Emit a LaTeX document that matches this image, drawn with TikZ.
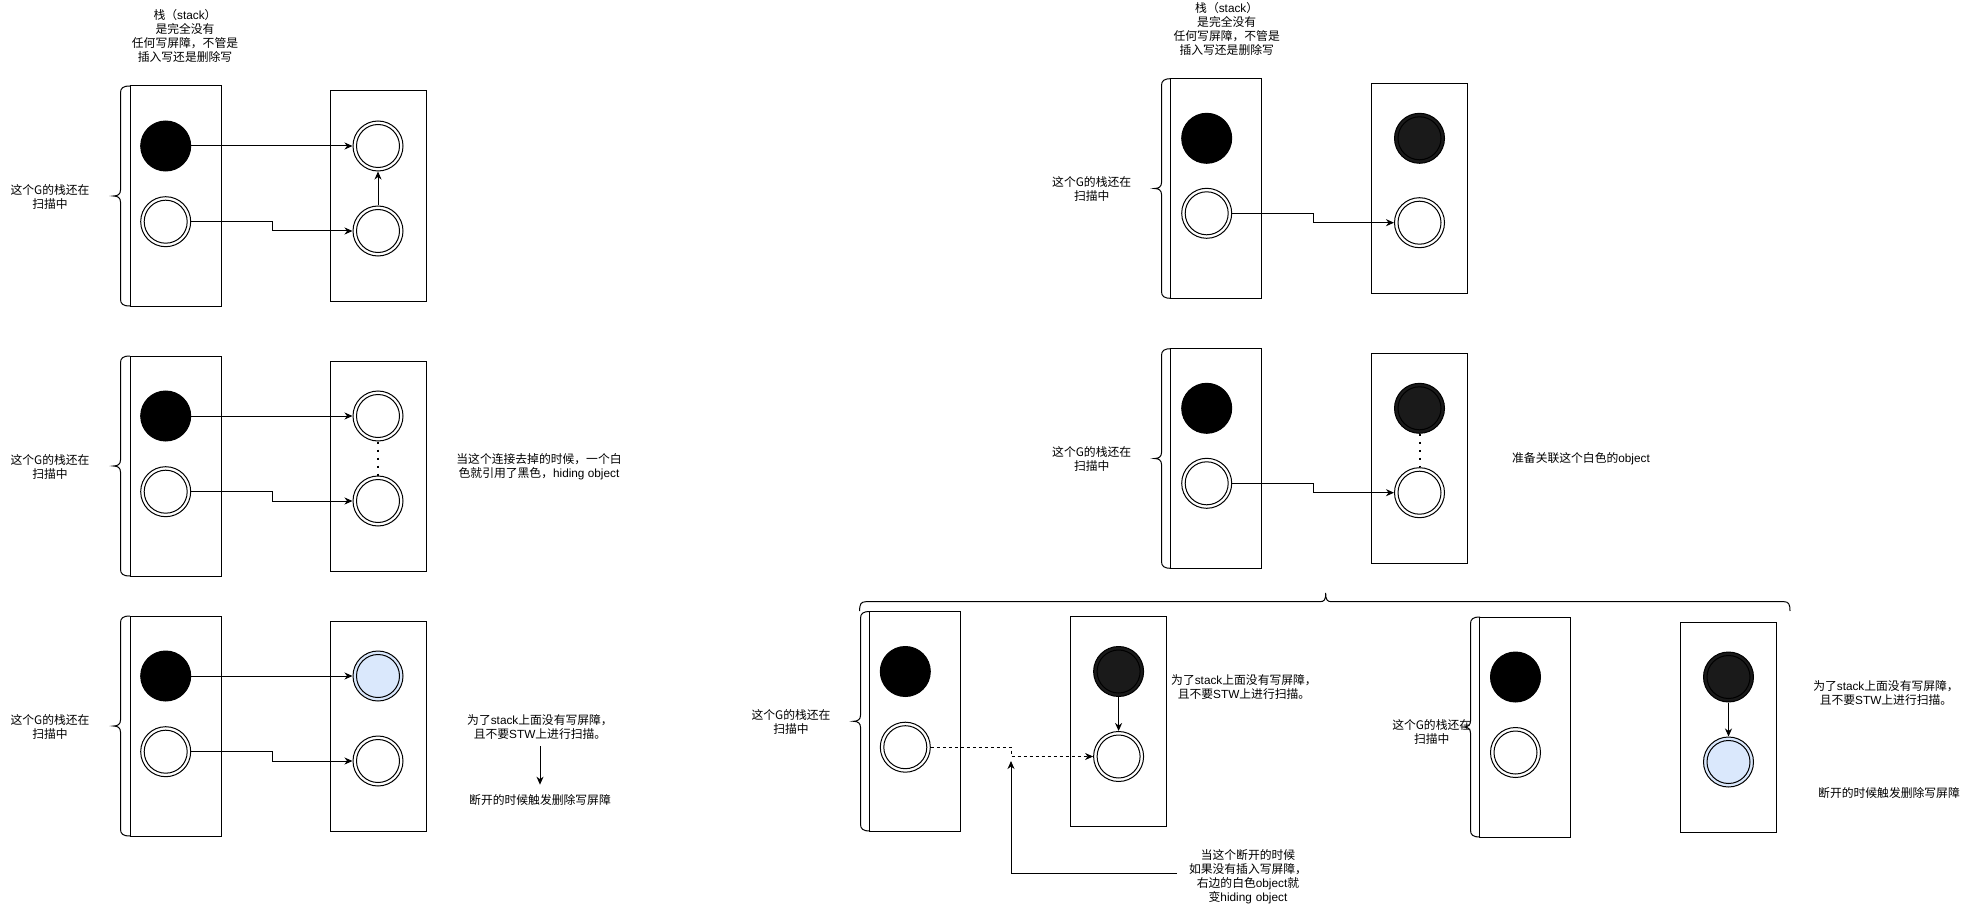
\documentclass[tikz,border=0pt]{standalone}
\usepackage{fontspec}
\setmainfont{Noto Sans CJK SC}
\newfontfamily\lat{Liberation Sans}
\usetikzlibrary{arrows.meta}
\definecolor{darkfill}{HTML}{1A1A1A}
\definecolor{lblue}{HTML}{DAE8FC}
% vertical curly brace: X (right edge), T (top), B (bottom), M (tip y)
\newcommand\mybrace[4]{%
 \draw[line width=1pt] (#1,#2) .. controls (#1-7,#2) and (#1-9.5,#2+2) .. (#1-9.5,#2+7)
   -- (#1-9.5,#4-6) .. controls (#1-9.5,#4-2) and (#1-12,#4) .. (#1-16.5,#4)
   .. controls (#1-12,#4) and (#1-9.5,#4+2) .. (#1-9.5,#4+6)
   -- (#1-9.5,#3-7) .. controls (#1-9.5,#3-2) and (#1-7,#3) .. (#1,#3);}
\begin{document}
\begin{tikzpicture}[x=1pt,y=-1pt,line width=1pt,
  lbox/.style={draw,rectangle,fill=white,minimum width=91pt,minimum height=220pt,inner sep=0},
  rbox/.style={draw,rectangle,fill=white,minimum width=96pt,minimum height=210pt,inner sep=0},
  bdot/.style={circle,draw,fill=black,minimum size=50pt,inner sep=0},
  dbl/.style={circle,draw,fill=#1,minimum size=50pt,inner sep=0,
    path picture={\draw[line width=1pt] (path picture bounding box.center) circle (21.5pt);}},
  dbl/.default=white,
  txt/.style={font=\fontsize{11.8}{14}\selectfont,align=center},
  arr/.style={-{Stealth[length=8pt,width=7pt,inset=2.5pt]}},
  dotline/.style={line width=2pt,dash pattern=on 2pt off 6pt},
  dashline/.style={dash pattern=on 3pt off 3pt}]
\useasboundingbox (0,0) rectangle (1981,904);

% ---------------- Panel 1 ----------------
\node[lbox] (L1) at (175.5,196) {};
\node[rbox] (R1) at (378,196) {};
\node[bdot] (b1) at (165.7,146) {};
\node[dbl] (w1) at (165.7,221.7) {};
\node[dbl] (r1a) at (378,146) {};
\node[dbl] (r1b) at (378,231) {};
\draw[arr] (b1) -- (r1a);
\draw[arr] (w1.east) -- ++(81,0) |- (r1b.west);
\draw[arr] (r1b) -- (r1a);
\mybrace{130}{86}{306}{196}
\node[txt] (g1) at (50,197) {这个G的栈还在\\扫描中};
\node[txt] (s1) at (185,36.3) {栈（{\lat stack}）\\是完全没有\\任何写屏障，不管是\\插入写还是删除写};

% ---------------- Panel 2 ----------------
\node[lbox] (L2) at (175.5,466) {};
\node[rbox] (R2) at (378,466) {};
\node[bdot] (b2) at (165.7,416) {};
\node[dbl] (w2) at (165.7,491.7) {};
\node[dbl] (r2a) at (378,416) {};
\node[dbl] (r2b) at (378,501) {};
\draw[arr] (b2) -- (r2a);
\draw[arr] (w2.east) -- ++(81,0) |- (r2b.west);
\draw[dotline] (r2a) -- (r2b);
\mybrace{130}{356}{576}{466}
\node[txt] (g2) at (50,467) {这个G的栈还在\\扫描中};
\node[txt] (t2) at (539,467) {当这个连接去掉的时候，一个白\\色就引用了黑色，{\lat hiding object}};

% ---------------- Panel 3 ----------------
\node[lbox] (L3) at (175.5,726) {};
\node[rbox] (R3) at (378,726) {};
\node[bdot] (b3) at (165.7,676) {};
\node[dbl] (w3) at (165.7,751.7) {};
\node[dbl=lblue] (r3a) at (378,676) {};
\node[dbl] (r3b) at (378,761) {};
\draw[arr] (b3) -- (r3a);
\draw[arr] (w3.east) -- ++(81,0) |- (r3b.west);
\mybrace{130}{616}{836}{726}
\node[txt] (g3) at (50,727) {这个G的栈还在\\扫描中};
\node[txt] (t3a) at (540,727) {为了{\lat stack}上面没有写屏障，\\且不要{\lat STW}上进行扫描。};
\node[txt] (t3b) at (540,800) {断开的时候触发删除写屏障};
\draw[arr,shorten <=3pt,shorten >=6pt] (t3a) -- (t3b);

% ---------------- Panel 4 ----------------
\node[lbox] (L4) at (1216.4,188.5) {};
\node[rbox] (R4) at (1419.5,188.3) {};
\node[bdot] (b4) at (1206.7,138.3) {};
\node[dbl] (w4) at (1206.7,213.3) {};
\node[dbl=darkfill] (r4a) at (1419.5,138.3) {};
\node[dbl] (r4b) at (1419.5,222.7) {};
\draw[arr] (w4.east) -- ++(81,0) |- (r4b.west);
\mybrace{1171}{78.7}{298.3}{188.5}
\node[txt] (g4) at (1091.7,189) {这个G的栈还在\\扫描中};
\node[txt] (s4) at (1226.7,28.7) {栈（{\lat stack}）\\是完全没有\\任何写屏障，不管是\\插入写还是删除写};

% ---------------- Panel 5 ----------------
\node[lbox] (L5) at (1216.4,458.5) {};
\node[rbox] (R5) at (1419.5,458.3) {};
\node[bdot] (b5) at (1206.7,408.3) {};
\node[dbl] (w5) at (1206.7,483.3) {};
\node[dbl=darkfill] (r5a) at (1419.5,408.3) {};
\node[dbl] (r5b) at (1419.5,492.7) {};
\draw[arr] (w5.east) -- ++(81,0) |- (r5b.west);
\draw[dotline] (r5a) -- (r5b);
\mybrace{1171}{348.7}{568.3}{458.5}
\node[txt] (g5) at (1091.7,459) {这个G的栈还在\\扫描中};
\node[txt] (t5) at (1581,458.6) {准备关联这个白色的{\lat object}};

% ---------------- big horizontal brace ----------------
\draw (859.6,611) .. controls (859.6,604) and (861,601.7) .. (866,601.7)
  -- (1319.7,601.7) .. controls (1324.2,601.7) and (1325.7,600) .. (1325.7,593)
  .. controls (1325.7,600) and (1327.2,601.7) .. (1331.7,601.7)
  -- (1784,601.7) .. controls (1788.5,601.7) and (1790,604) .. (1790,611);

% ---------------- Panel 6 ----------------
\node[lbox] (L6) at (915.3,721.3) {};
\node[rbox] (R6) at (1118.6,721.3) {};
\node[bdot] (b6) at (905.3,671.5) {};
\node[dbl] (w6) at (905.3,747.2) {};
\node[dbl=darkfill] (r6a) at (1118.6,671.5) {};
\node[dbl] (r6b) at (1118.6,756.5) {};
\draw[arr,dashline] (w6.east) -- ++(80.5,0) |- (r6b.west);
\draw[arr] (r6a) -- (r6b);
\mybrace{870}{611.5}{831}{721.3}
\node[txt] (g6) at (791,721.5) {这个G的栈还在\\扫描中};
\node[txt] (t6a) at (1244,687) {为了{\lat stack}上面没有写屏障，\\且不要{\lat STW}上进行扫描。};
\node[txt,text width=134pt] (t6d) at (1248,877) {当这个断开的时候\\如果没有插入写屏障，\\右边的白色{\lat object}就\\变{\lat hiding object}};
\coordinate (c6) at (1011,761);
\draw[arr] ([yshift=4pt]t6d.west) -| (c6);

% ---------------- Panel 7 ----------------
\node[txt] (g7) at (1431.7,731.5) {这个G的栈还在\\扫描中};
\node[lbox] (L7) at (1525.4,727) {};
\node[rbox] (R7) at (1728.5,727.5) {};
\node[bdot] (b7) at (1515.5,677) {};
\node[dbl] (w7) at (1515.5,752.5) {};
\node[dbl=darkfill] (r7a) at (1728.5,677) {};
\node[dbl=lblue] (r7b) at (1728.5,762) {};
\draw[arr] (r7a) -- (r7b);
\mybrace{1480}{617}{837}{727}
\node[txt] (t7a) at (1886,692.7) {为了{\lat stack}上面没有写屏障，\\且不要{\lat STW}上进行扫描。};
\node[txt] (t7b) at (1889,793.3) {断开的时候触发删除写屏障};
\end{tikzpicture}
\end{document}
